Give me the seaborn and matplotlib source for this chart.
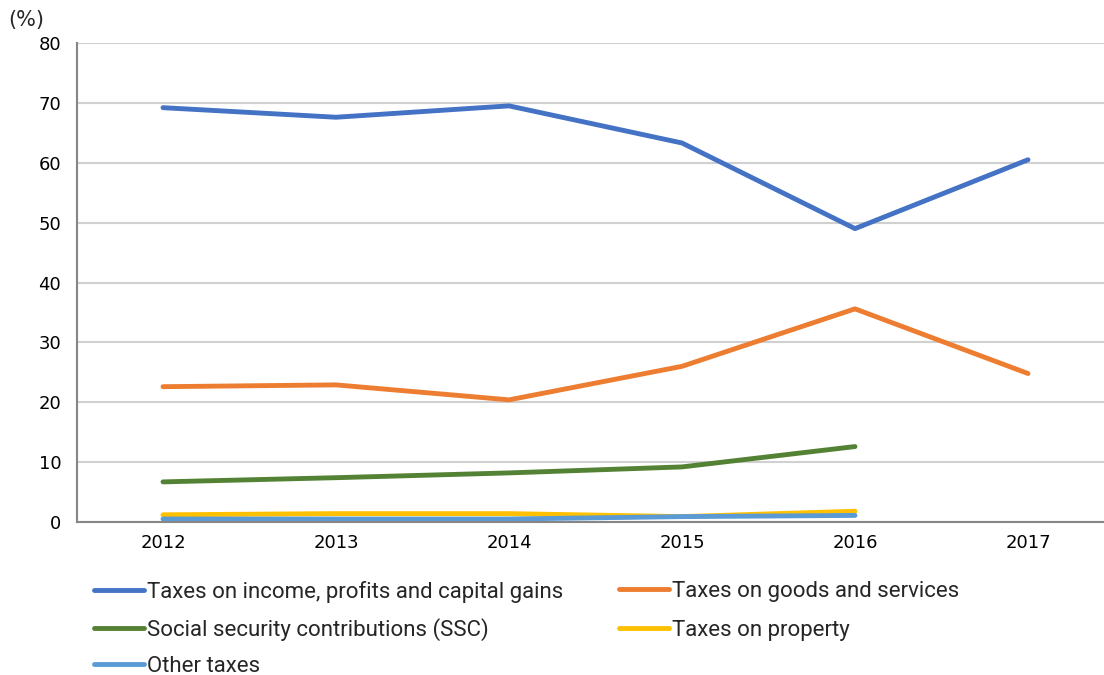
import numpy as np
import pandas as pd
import matplotlib
matplotlib.use("Agg")
import matplotlib.pyplot as plt
import seaborn as sns

years = [2012, 2013, 2014, 2015, 2016, 2017]
income_profits = [69.2, 67.6, 69.5, 63.3, 49.0, 60.5]
goods_services = [22.6, 22.9, 20.4, 26.0, 35.6, 24.8]
social_security = [6.7, 7.4, 8.2, 9.2, 12.6, np.nan]
property_taxes = [1.2, 1.4, 1.4, 0.9, 1.8, np.nan]
other_taxes = [0.5, 0.5, 0.5, 0.9, 1.1, np.nan]

series_names = [
    "Taxes on income, profits and capital gains",
    "Taxes on goods and services",
    "Social security contributions (SSC)",
    "Taxes on property",
    "Other taxes",
]
series_values = [income_profits, goods_services, social_security, property_taxes, other_taxes]
colors = ["#4472C4", "#ED7D31", "#548235", "#FFC000", "#5B9BD5"]

df = pd.DataFrame(
    [(y, name, v) for name, vals in zip(series_names, series_values) for y, v in zip(years, vals)],
    columns=["year", "series", "value"],
)

sns.set_theme(style="white")
plt.rcParams["font.family"] = ["DejaVu Sans"]

fig = plt.figure(figsize=(11.04, 6.75), dpi=100)
ax = fig.add_axes([76.5 / 1104, 1 - 522 / 675, 1038 / 1104, (522 - 43) / 675])

sns.lineplot(
    data=df, x="year", y="value", hue="series", hue_order=series_names,
    palette=colors, linewidth=3.5, ax=ax, legend=False, estimator=None, sort=False,
)
for line in ax.lines:
    line.set_solid_capstyle("round")
    line.set_solid_joinstyle("round")

ax.set_xlim(2011.5, 2017.5)
ax.set_ylim(0, 80)
ax.set_yticks(range(0, 81, 10))
ax.set_xticks(years)
ax.set_xticks([y + 0.5 for y in [2011] + years[:-1]], minor=True)
ax.tick_params(axis="x", which="major", length=0, pad=9, labelcolor="#000000")
ax.tick_params(axis="x", which="minor", length=5, width=1.2, color="#868686", direction="out")
ax.tick_params(axis="y", length=5, width=1.2, color="#d0d0d0", direction="out", pad=6,
               labelcolor="#000000")
for lab in ax.get_xticklabels() + ax.get_yticklabels():
    lab.set_fontsize(13)
ax.yaxis.grid(True, color="#d0d0d0", linewidth=1.5)
ax.set_axisbelow(True)
ax.set_xlabel("")
ax.set_ylabel("")
for side in ["top", "right"]:
    ax.spines[side].set_visible(False)
for side in ["left", "bottom"]:
    ax.spines[side].set_color("#868686")
    ax.spines[side].set_linewidth(1.5)

fig.text(8 / 1104, 1 - 20 / 675, "(%)", fontsize=15, va="center", ha="left")

# legend laid out as two columns, filled row by row
handles = [plt.Line2D([], [], color=c, linewidth=3.5) for c in colors]
common = dict(frameon=False, loc="upper left", borderaxespad=0, borderpad=0,
              handlelength=2.25, handletextpad=0.15,
              prop={"family": "Roboto", "size": 16})
fig.legend([handles[i] for i in (0, 2, 4)], [series_names[i] for i in (0, 2, 4)],
           bbox_to_anchor=(94 / 1104, 1 - 581 / 675), labelspacing=0.68, **common)
fig.legend([handles[i] for i in (1, 3)], [series_names[i] for i in (1, 3)],
           bbox_to_anchor=(619 / 1104, 1 - 581 / 675), labelspacing=0.79, **common)

fig.savefig("out.png", dpi=100)
